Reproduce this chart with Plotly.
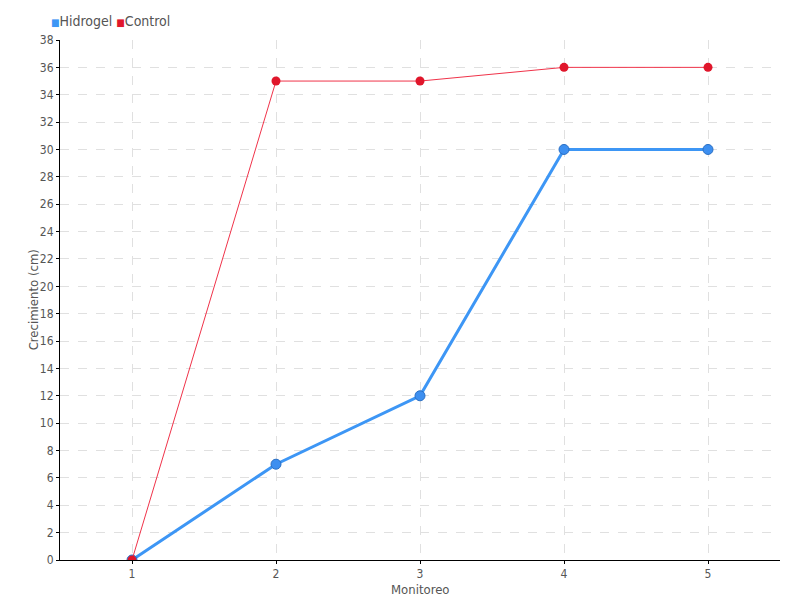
import plotly.graph_objects as go

# Monitoreo vs crecimiento
monitoreo = [1, 2, 3, 4, 5]
hidrogel = [0, 7, 12, 30, 30]
control = [0, 35, 35, 36, 36]
y_ticks = list(range(0, 39, 2))

FONT = "Liberation Sans Narrow, DejaVu Sans Condensed, sans-serif"

fig = go.Figure()

fig.add_trace(go.Scatter(
    x=monitoreo, y=hidrogel, mode="lines+markers", name="Hidrogel",
    line=dict(color="#3d96f5", width=3),
    marker=dict(size=10, color="#3d8ff0", line=dict(color="#2a6fc4", width=1)),
))
fig.add_trace(go.Scatter(
    x=monitoreo, y=control, mode="lines+markers", name="Control",
    line=dict(color="#f0334a", width=1),
    marker=dict(size=9, color="#e0162b"),
))

# compact legend with square symbols
legend_text = ('<span style="color:#3d96f5;font-size:10px">■</span>Hidrogel '
               '<span style="color:#e0162b;font-size:10px">■</span>Control')
fig.add_annotation(text=legend_text, xref="paper", yref="paper", x=-0.015, y=1.017,
                   xanchor="left", yanchor="bottom", showarrow=False,
                   font=dict(size=14, color="#555"))

# axis titles as annotations so they sit close to the ticks
fig.add_annotation(text="Monitoreo", xref="paper", yref="paper", x=0.5, y=-0.056,
                   xanchor="center", yanchor="middle", showarrow=False,
                   font=dict(size=13, color="#555"))
fig.add_annotation(text="Crecimiento (cm)", xref="paper", yref="paper", x=-0.037, y=0.5,
                   xanchor="center", yanchor="middle", textangle=-90, showarrow=False,
                   font=dict(size=13, color="#555"))

# page body adds ~8px offset, so margins are shifted to compensate
fig.update_layout(
    width=800, height=600,
    margin=dict(l=52, r=28, t=32, b=48, autoexpand=False),
    plot_bgcolor="white", paper_bgcolor="white",
    font=dict(family=FONT, size=12, color="#555"),
    showlegend=False,
)

fig.update_xaxes(
    range=[0.5, 5.5], tickvals=monitoreo, ticktext=[str(m) for m in monitoreo],
    showline=True, linecolor="black", linewidth=1,
    ticks="outside", ticklen=3, tickcolor="black",
    showgrid=True, gridcolor="#e0e0e0", griddash="dash",
    zeroline=False, tickfont=dict(size=12),
)
fig.update_yaxes(
    range=[0, 38], tickvals=y_ticks,
    showline=True, linecolor="black", linewidth=1,
    ticks="outside", ticklen=3, tickcolor="black",
    showgrid=True, gridcolor="#e0e0e0", griddash="dash",
    zeroline=False, tickfont=dict(size=12),
)

fig.write_html("out.html")
